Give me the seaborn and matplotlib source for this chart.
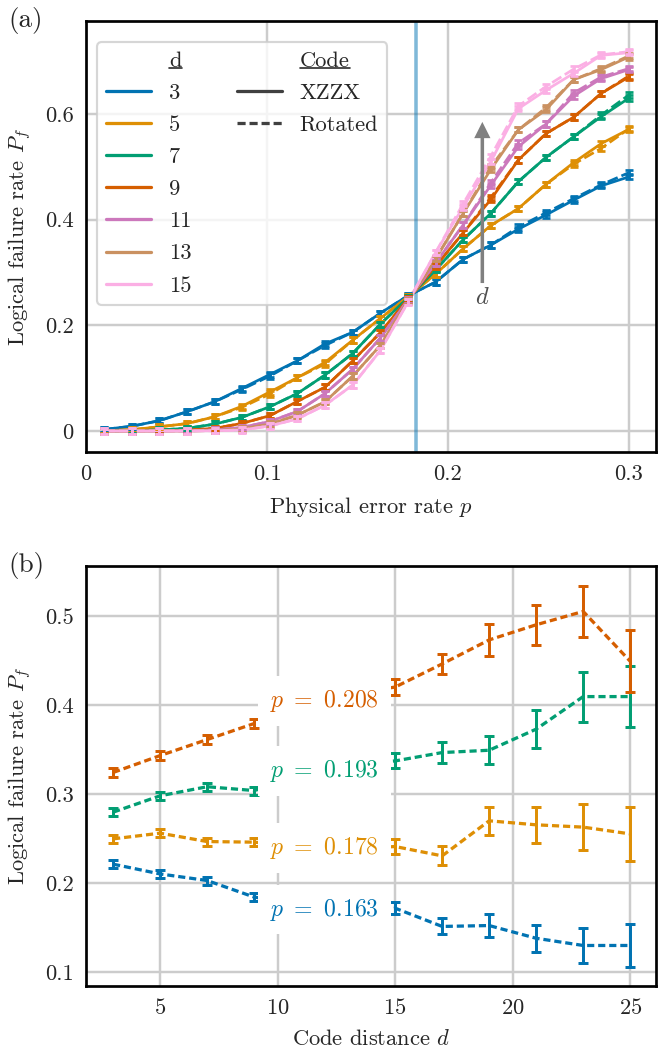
import numpy as np
import pandas as pd
import matplotlib
matplotlib.use("Agg")
import matplotlib.pyplot as plt
from matplotlib.lines import Line2D
from matplotlib.ticker import FormatStrFormatter
import seaborn as sns

# --- panel (a): logical failure rate vs physical error rate ---
p_rates = [0.01, 0.0253, 0.0405, 0.0558, 0.0711, 0.0863, 0.1016, 0.1168, 0.1321, 0.1474,
           0.1626, 0.1779, 0.1932, 0.2084, 0.2237, 0.2389, 0.2542, 0.2695, 0.2847, 0.3]
distances_a = [3, 5, 7, 9, 11, 13, 15]

xzzx = {
    3: [0.003, 0.009, 0.0195, 0.0365, 0.0555, 0.081, 0.107, 0.133, 0.165, 0.187,
        0.223, 0.256, 0.282, 0.325, 0.352, 0.382, 0.409, 0.437, 0.464, 0.481],
    5: [0.0005, 0.0025, 0.008, 0.014, 0.027, 0.047, 0.074, 0.101, 0.130, 0.172,
        0.213, 0.254, 0.297, 0.345, 0.389, 0.421, 0.467, 0.508, 0.544, 0.571],
    7: [0.0, 0.0005, 0.002, 0.005, 0.013, 0.026, 0.046, 0.071, 0.106, 0.147,
        0.202, 0.252, 0.305, 0.362, 0.412, 0.472, 0.518, 0.557, 0.595, 0.630],
    9: [0.0, 0.0, 0.0005, 0.0015, 0.005, 0.0145, 0.029, 0.056, 0.083, 0.133,
        0.186, 0.250, 0.312, 0.375, 0.438, 0.513, 0.563, 0.594, 0.639, 0.670],
    11: [0.0, 0.0, 0.0, 0.0005, 0.002, 0.007, 0.018, 0.037, 0.071, 0.117,
         0.176, 0.248, 0.318, 0.390, 0.465, 0.538, 0.581, 0.634, 0.667, 0.684],
    13: [0.0, 0.0, 0.0, 0.0, 0.001, 0.004, 0.013, 0.030, 0.0555, 0.104,
         0.162, 0.246, 0.326, 0.412, 0.495, 0.570, 0.608, 0.665, 0.684, 0.708],
    15: [0.0, 0.0, 0.0, 0.0, 0.0005, 0.002, 0.0095, 0.023, 0.049, 0.087,
         0.152, 0.244, 0.338, 0.424, 0.510, 0.610, 0.645, 0.677, 0.711, 0.716],
}
rotated = {
    3: [0.003, 0.009, 0.0195, 0.0365, 0.0555, 0.079, 0.104, 0.133, 0.162, 0.187,
        0.223, 0.256, 0.282, 0.325, 0.352, 0.386, 0.413, 0.440, 0.466, 0.489],
    5: [0.0005, 0.0025, 0.008, 0.014, 0.027, 0.045, 0.070, 0.101, 0.127, 0.172,
        0.213, 0.254, 0.297, 0.345, 0.389, 0.421, 0.467, 0.505, 0.535, 0.572],
    7: [0.0, 0.0005, 0.002, 0.005, 0.013, 0.026, 0.046, 0.071, 0.106, 0.147,
        0.202, 0.252, 0.305, 0.362, 0.412, 0.472, 0.518, 0.557, 0.598, 0.636],
    9: [0.0, 0.0, 0.0005, 0.0015, 0.005, 0.0145, 0.029, 0.056, 0.083, 0.133,
        0.186, 0.250, 0.312, 0.375, 0.442, 0.513, 0.563, 0.594, 0.639, 0.672],
    11: [0.0, 0.0, 0.0, 0.0005, 0.002, 0.007, 0.018, 0.037, 0.071, 0.117,
         0.176, 0.248, 0.318, 0.390, 0.470, 0.545, 0.581, 0.640, 0.670, 0.686],
    13: [0.0, 0.0, 0.0, 0.0, 0.001, 0.004, 0.013, 0.030, 0.0555, 0.104,
         0.162, 0.246, 0.326, 0.412, 0.500, 0.570, 0.612, 0.665, 0.686, 0.710],
    15: [0.0, 0.0, 0.0, 0.0, 0.0005, 0.002, 0.0095, 0.023, 0.049, 0.087,
         0.152, 0.244, 0.338, 0.430, 0.520, 0.615, 0.652, 0.685, 0.712, 0.718],
}
err_a = 0.005
threshold = 0.1823

# --- panel (b): logical failure rate vs code distance ---
distances_b = [3, 5, 7, 9, 11, 13, 15, 17, 19, 21, 23, 25]
p_labels = ["0.163", "0.178", "0.193", "0.208"]
pf_b = [
    [0.221, 0.210, 0.2026, 0.184, 0.176, 0.164, 0.1715, 0.151, 0.152, 0.1377, 0.1296, 0.1296],
    [0.2494, 0.2558, 0.2464, 0.2457, 0.241, 0.238, 0.2408, 0.2303, 0.2697, 0.2652, 0.2626, 0.255],
    [0.2794, 0.2978, 0.308, 0.3037, 0.318, 0.333, 0.337, 0.3464, 0.349, 0.3727, 0.4093, 0.4093],
    [0.324, 0.343, 0.361, 0.379, 0.397, 0.412, 0.420, 0.446, 0.473, 0.490, 0.505, 0.449],
]
err_b = [
    [0.0045, 0.0045, 0.0045, 0.0045, 0.006, 0.007, 0.007, 0.009, 0.0125, 0.0154, 0.0193, 0.0238],
    [0.0045, 0.0045, 0.0045, 0.0045, 0.006, 0.007, 0.0085, 0.0107, 0.0155, 0.020, 0.0255, 0.0307],
    [0.0045, 0.0045, 0.0045, 0.0045, 0.006, 0.007, 0.0085, 0.0118, 0.016, 0.0217, 0.028, 0.034],
    [0.005, 0.005, 0.005, 0.005, 0.006, 0.016, 0.0094, 0.0116, 0.018, 0.0225, 0.029, 0.035],
]

FS = 8.3
sns.set_theme(style="whitegrid", palette="colorblind", context="paper")
plt.rcParams.update({
    "font.family": ["cmr10"],
    "mathtext.fontset": "cm",
    "axes.formatter.use_mathtext": True,
    "font.size": FS,
    "axes.labelsize": FS,
    "xtick.labelsize": FS,
    "ytick.labelsize": FS,
    "legend.fontsize": FS,
    "axes.edgecolor": "black",
    "axes.linewidth": 1.0,
    "grid.color": ".8",
    "grid.linewidth": 0.9,
    "text.color": ".15",
    "axes.labelcolor": ".15",
    "xtick.color": ".15",
    "ytick.color": ".15",
})
palette = sns.color_palette("colorblind")

fig = plt.figure(figsize=(662 / 195, 1049 / 195), dpi=195)
ax1 = fig.add_axes([0.130, 0.569, 0.861, 0.411])
ax2 = fig.add_axes([0.130, 0.060, 0.861, 0.4004])

# panel (a)
rows = []
for d in distances_a:
    for code, table in (("XZZX", xzzx), ("Rotated", rotated)):
        for p, v in zip(p_rates, table[d]):
            rows.append({"p": p, "Pf": v, "d": str(d), "code": code})
df_a = pd.DataFrame(rows)

ax1.axvline(threshold, color=palette[0], alpha=0.5, lw=1.3, zorder=1)
sns.lineplot(data=df_a, x="p", y="Pf", hue="d", style="code",
             hue_order=[str(d) for d in distances_a], style_order=["XZZX", "Rotated"],
             palette=palette[:7], dashes={"XZZX": "", "Rotated": (4, 1.5)},
             lw=1.0, legend=False, ax=ax1)
for i, d in enumerate(distances_a):
    for table in (xzzx, rotated):
        ax1.errorbar(p_rates, table[d], yerr=err_a, fmt="none", ecolor=palette[i],
                     elinewidth=1.0, capsize=1.3, capthick=1.0)

ax1.annotate("", xy=(0.219, 0.585), xytext=(0.219, 0.28),
             arrowprops=dict(color="gray", width=1.3, headwidth=6, headlength=6, lw=0))
ax1.text(0.219, 0.252, "$d$", color=".3", ha="center", va="center", fontsize=9)

ax1.set_xlim(0, 0.315)
ax1.set_ylim(-0.04, 0.776)
ax1.set_xticks([0, 0.1, 0.2, 0.3])
ax1.set_yticks([0, 0.2, 0.4, 0.6])
ax1.xaxis.set_major_formatter(FormatStrFormatter("%g"))
ax1.yaxis.set_major_formatter(FormatStrFormatter("%g"))
ax1.set_xlabel("Physical error rate $p$")
ax1.set_ylabel("Logical failure rate $P_f$")

blank = Line2D([], [], color="none")
handles = [blank] + [Line2D([], [], color=palette[i], lw=1.2) for i in range(7)]
handles += [blank, Line2D([], [], color=".25", lw=1.2),
            Line2D([], [], color=".25", lw=1.2, ls=(0, (2.5, 1.2)))] + [blank] * 5
labels = ["d"] + [str(d) for d in distances_a]
labels += ["Code", "XZZX", "Rotated"] + [""] * 5
leg = ax1.legend(handles, labels, ncol=2, loc="upper left", bbox_to_anchor=(0.0, 0.977),
                 handlelength=2.0, handletextpad=0.8, columnspacing=2.0, labelspacing=0.55,
                 frameon=True, edgecolor=".8", framealpha=0.8)

# panel (b)
rows = []
for lab, vals in zip(p_labels, pf_b):
    for d, v in zip(distances_b, vals):
        rows.append({"d": d, "Pf": v, "p": lab})
df_b = pd.DataFrame(rows)
sns.lineplot(data=df_b, x="d", y="Pf", hue="p", hue_order=p_labels,
             palette=palette[:4], lw=1.2, legend=False, ax=ax2)
for line in ax2.lines:
    line.set_linestyle((0, (2.2, 1.2)))
for i, (lab, vals, errs) in enumerate(zip(p_labels, pf_b, err_b)):
    ax2.errorbar(distances_b, vals, yerr=errs, fmt="none", ecolor=palette[i],
                 elinewidth=1.1, capsize=1.8, capthick=1.1)
    y_lab = np.interp(12, distances_b, vals)
    ax2.text(12, y_lab, f"$p\\ =\\ {lab}$", color=palette[i], ha="center", va="center",
             fontsize=8.8, zorder=5,
             bbox=dict(boxstyle="square,pad=0.5", fc="white", ec="none"))

ax2.set_xlim(1.85, 26.1)
ax2.set_ylim(0.084, 0.556)
ax2.set_xticks([5, 10, 15, 20, 25])
ax2.set_yticks([0.1, 0.2, 0.3, 0.4, 0.5])
ax2.yaxis.set_major_formatter(FormatStrFormatter("%g"))
ax2.set_xlabel("Code distance $d$")
ax2.set_ylabel("Logical failure rate $P_f$")

for ax in (ax1, ax2):
    ax.tick_params(length=0, pad=4.5)
    for s in ax.spines.values():
        s.set_color("black")

fig.text(0.012, 0.993, "(a)", ha="left", va="top", fontsize=10)
fig.text(0.012, 0.474, "(b)", ha="left", va="top", fontsize=10)

# underline the legend column headers
fig.canvas.draw()
renderer = fig.canvas.get_renderer()
to_fig = fig.transFigure.inverted()
for t in leg.get_texts():
    if t.get_text() in ("d", "Code"):
        bb = t.get_window_extent(renderer)
        y = bb.y0 + 3
        (x0, y0), (x1, _) = to_fig.transform([(bb.x0, y), (bb.x1, y)])
        fig.add_artist(Line2D([x0, x1], [y0, y0], transform=fig.transFigure,
                              color=".15", lw=0.6, zorder=10))

fig.savefig("out.png", dpi=195)
